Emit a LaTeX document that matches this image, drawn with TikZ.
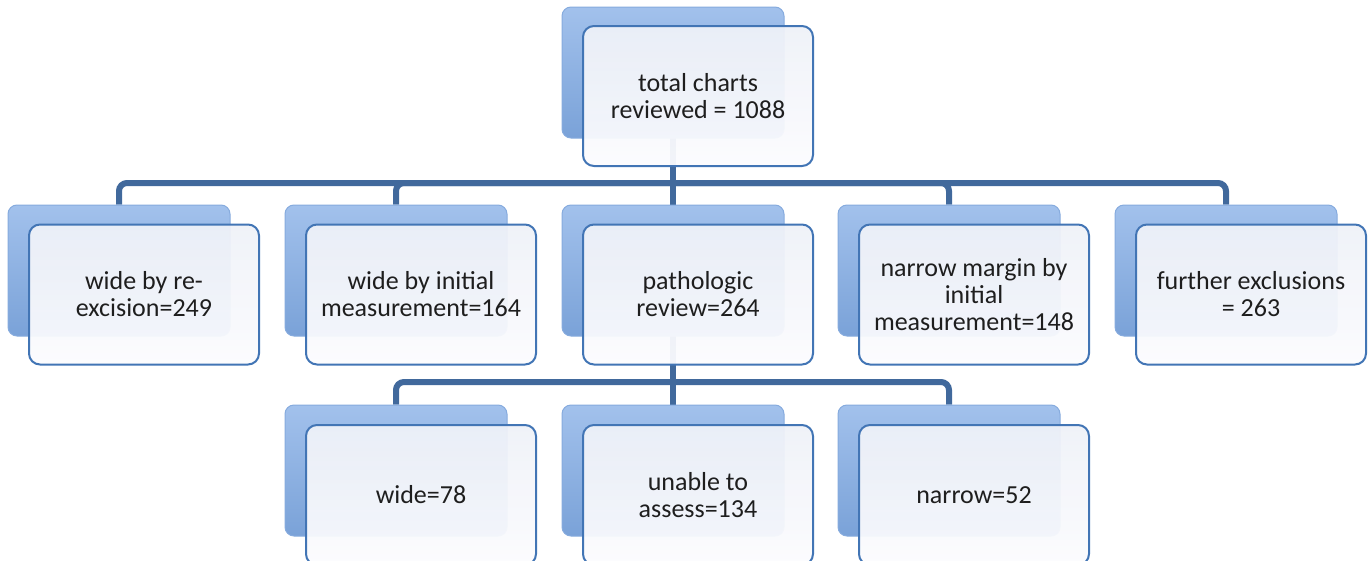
\documentclass[tikz,border=0pt]{standalone}
\usepackage{fontspec}
\setmainfont{Carlito}
\definecolor{connc}{HTML}{41699C}
\definecolor{backtop}{HTML}{A2C1EC}
\definecolor{backbot}{HTML}{7AA2D8}
\definecolor{backedge}{HTML}{86ABDE}
\definecolor{fronttop}{HTML}{EEF1F8}
\definecolor{frontbot}{HTML}{FCFCFE}
\definecolor{frontedge}{HTML}{4275B5}
\definecolor{textc}{HTML}{1E1E1E}
\pgfdeclarelayer{bg}
\pgfsetlayers{bg,main}
\begin{document}
\begin{tikzpicture}[x=1pt,y=-1pt,
  conn/.style={draw=connc, line width=6pt},
  backbox/.style={rectangle, rounded corners=9pt, minimum width=222pt, minimum height=131pt,
    inner sep=0pt, top color=backtop, bottom color=backbot, draw=backedge, line width=1pt},
  frontbox/.style={rectangle, rounded corners=11pt, minimum width=230pt, minimum height=140pt,
    inner sep=0pt, top color=fronttop, bottom color=frontbot, fill opacity=0.95, text opacity=1,
    draw=frontedge, draw opacity=1, line width=2pt, align=center,
    font=\fontsize{26}{27}\selectfont, text=textc}]
\useasboundingbox (0,0) rectangle (1369,560);
\clip (0,0) rectangle (1369,560);
% back boxes
\node[backbox] (b1) at (673,72.5) {};
\node[backbox] (b2a) at (119,270.5) {};
\node[backbox] (b2b) at (396,270.5) {};
\node[backbox] (b2c) at (673,270.5) {};
\node[backbox] (b2d) at (949,270.5) {};
\node[backbox] (b2e) at (1226,270.5) {};
\node[backbox] (b3a) at (396,470.5) {};
\node[backbox] (b3b) at (673,470.5) {};
\node[backbox] (b3c) at (949,470.5) {};
% front boxes
\node[frontbox] (f1) at (698,96) {total charts\\reviewed = 1088};
\node[frontbox] (f2a) at (144,294.5) {wide by re-\\excision=249};
\node[frontbox] (f2b) at (421,294.5) {wide by initial\\measurement=164};
\node[frontbox] (f2c) at (698,294.5) {pathologic\\review=264};
\node[frontbox] (f2d) at (974,294.5) {narrow margin by\\initial\\measurement=148};
\node[frontbox] (f2e) at (1251,294.5) {further exclusions\\= 263};
\node[frontbox] (f3a) at (421,495) {wide=78};
\node[frontbox] (f3b) at (698,495) {unable to\\assess=134};
\node[frontbox] (f3c) at (974,495) {narrow=52};
% connectors
\coordinate (bus1) at (0,183);
\coordinate (bus2) at (0,382);
\begin{pgfonlayer}{bg}
\draw[conn] (b1.center) -- (b1.center |- bus1);
\foreach \c in {b2a,b2b,b2c,b2d,b2e}
  \draw[conn, rounded corners=8pt] (b1.center |- bus1) -| (\c.north);
\draw[conn] (b2c.center) -- (b2c.center |- bus2);
\foreach \c in {b3a,b3b,b3c}
  \draw[conn, rounded corners=8pt] (b2c.center |- bus2) -| (\c.north);
\end{pgfonlayer}
\end{tikzpicture}
\end{document}
